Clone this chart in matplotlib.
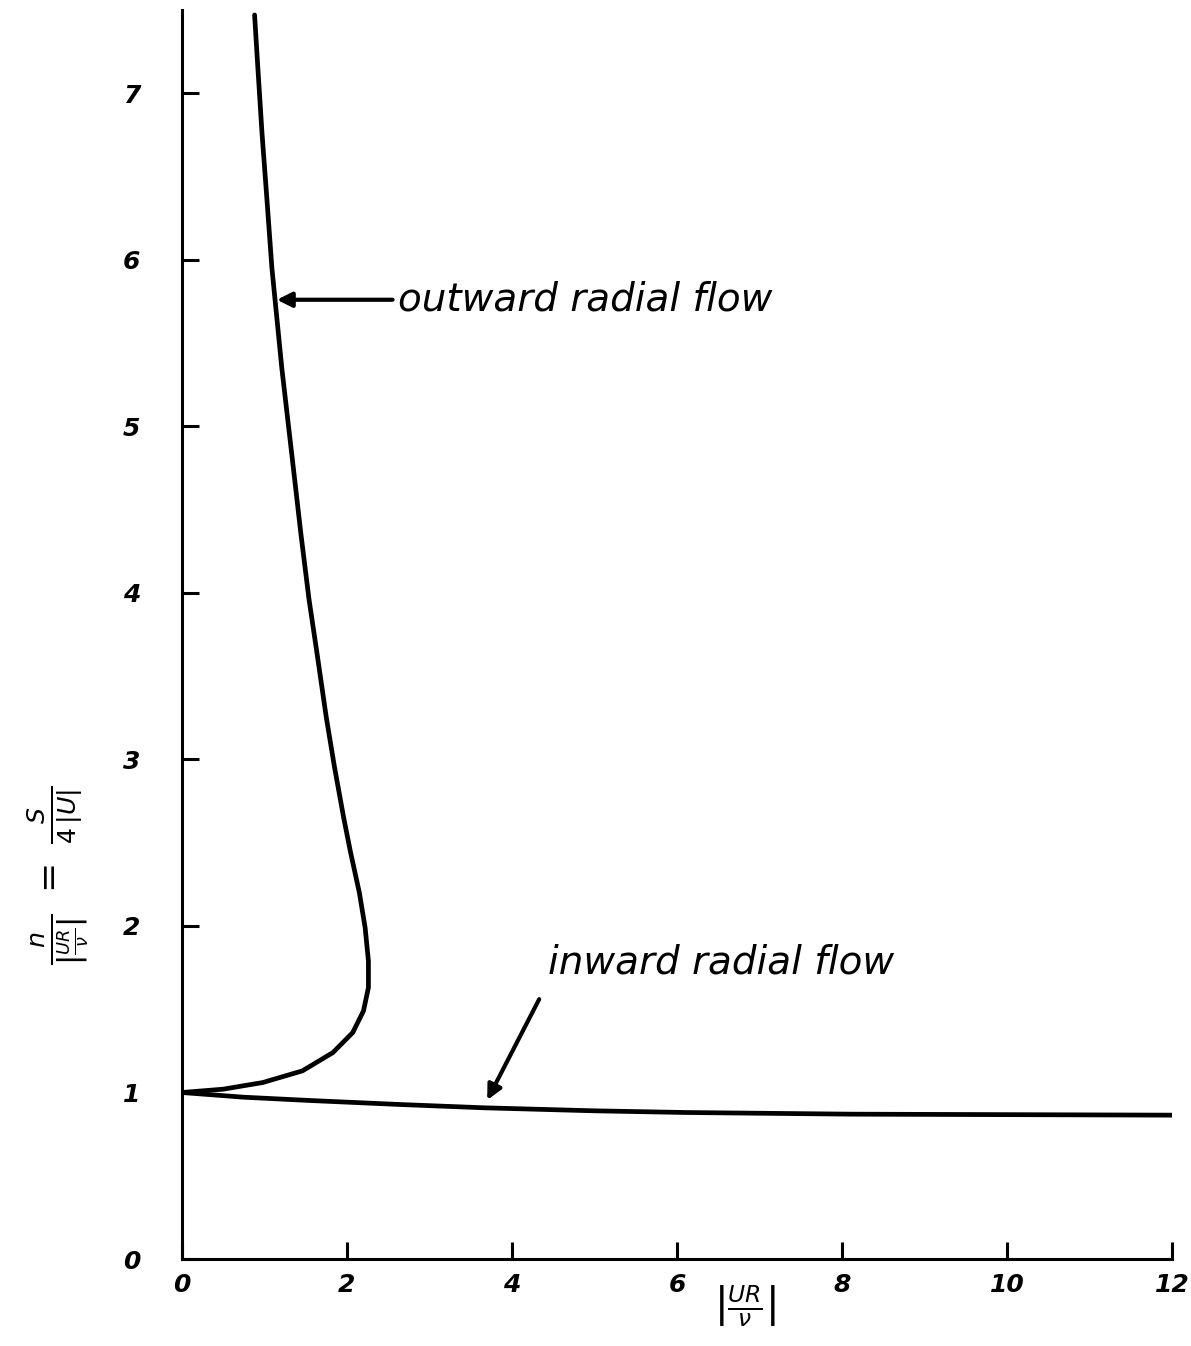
import matplotlib.pyplot as plt
import numpy as np

# outward radial flow curve (x = |UR/nu|, y = n/|UR/nu|)
outward_x = [0.0, 0.50, 0.98, 1.46, 1.83, 2.07, 2.20, 2.26, 2.26, 2.22, 2.15,
             2.04, 1.96, 1.85, 1.75, 1.63, 1.54, 1.44, 1.35, 1.28, 1.21, 1.15,
             1.09, 1.03, 0.97, 0.92, 0.88]
outward_y = [1.0, 1.02, 1.06, 1.13, 1.24, 1.36, 1.49, 1.63, 1.79, 1.99, 2.20,
             2.45, 2.65, 2.95, 3.25, 3.66, 3.96, 4.36, 4.75, 5.05, 5.35, 5.65,
             5.95, 6.36, 6.76, 7.15, 7.47]

# inward radial flow curve
inward_x = [0.0, 0.74, 1.55, 2.64, 3.67, 5.0, 6.1, 8.1, 12.0]
inward_y = [1.0, 0.972, 0.952, 0.928, 0.908, 0.89, 0.88, 0.87, 0.864]

xticks = [0, 2, 4, 6, 8, 10, 12]
yticks = [0, 1, 2, 3, 4, 5, 6, 7]

fig = plt.figure(figsize=(11.91, 13.46), dpi=100)
ax = fig.add_axes([0.1528, 0.0646, 0.8312, 0.928])

ax.plot(outward_x, outward_y, color='black', linewidth=3.4,
        solid_capstyle='round', solid_joinstyle='round')
ax.plot(inward_x, inward_y, color='black', linewidth=3.4,
        solid_capstyle='round', solid_joinstyle='round')

ax.set_xlim(0, 12)
ax.set_ylim(0, 7.5)
ax.spines['top'].set_visible(False)
ax.spines['right'].set_visible(False)
ax.spines['left'].set_linewidth(2.2)
ax.spines['bottom'].set_linewidth(2.2)
ax.spines['bottom'].set_bounds(0, 12)

ax.set_xticks(xticks)
ax.set_yticks(yticks)
ax.tick_params(axis='both', direction='in', length=12, width=2.2, labelsize=18)
ax.tick_params(axis='y', pad=30)
ax.tick_params(axis='x', pad=10)
for lab in ax.get_xticklabels() + ax.get_yticklabels():
    lab.set_fontweight('bold')
    lab.set_fontstyle('italic')

ax.set_xlabel(r'$\left|\frac{UR}{\nu}\right|$', fontsize=24)
ax.xaxis.set_label_coords(0.569, -0.02)
ax.set_ylabel(r'$\frac{n}{\left|\frac{UR}{\nu}\right|}\ =\ \frac{S}{4\,|U|}$', fontsize=26)
ax.yaxis.set_label_coords(-0.092, 0.307)

ax.annotate('outward radial flow', xy=(1.15, 5.76), xytext=(2.62, 5.76),
            fontsize=28, fontstyle='italic', va='center', ha='left',
            arrowprops=dict(arrowstyle='-|>', color='black', lw=3,
                            mutation_scale=22, shrinkA=2, shrinkB=0))
ax.annotate('inward radial flow', xy=(3.7, 0.955), xytext=(4.44, 1.78),
            fontsize=28, fontstyle='italic', va='center', ha='left',
            arrowprops=dict(arrowstyle='-|>', color='black', lw=3,
                            mutation_scale=22, shrinkA=12, shrinkB=0,
                            relpos=(0.0, 0.0)))

fig.savefig('out.png', dpi=100)
